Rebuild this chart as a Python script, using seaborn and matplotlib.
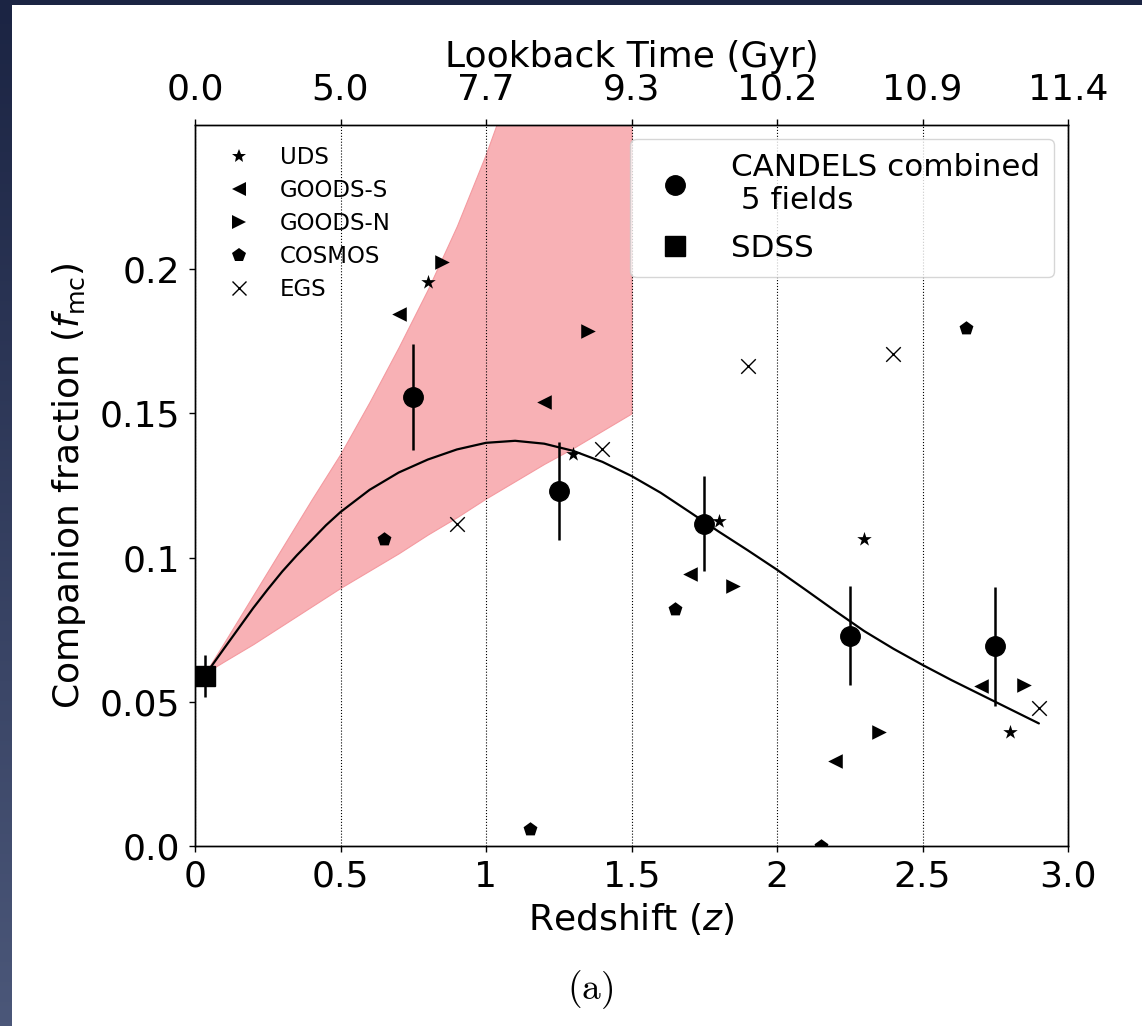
import numpy as np
import matplotlib
matplotlib.use('Agg')
import matplotlib.pyplot as plt
from matplotlib.lines import Line2D
from matplotlib.patches import Rectangle
from matplotlib.colors import LinearSegmentedColormap
import seaborn as sns

# ---------------- data ----------------
field_names = ['UDS', 'GOODS-S', 'GOODS-N', 'COSMOS', 'EGS']
field_markers = ['*', '<', '>', 'p', 'x']

uds_z = [0.80, 1.30, 1.80, 2.30, 2.80]
uds_f = [0.1957, 0.136, 0.1126, 0.1063, 0.0396]
goodss_z = [0.70, 1.20, 1.70, 2.20, 2.70]
goodss_f = [0.1846, 0.1538, 0.0944, 0.0293, 0.0556]
goodsn_z = [0.85, 1.35, 1.85, 2.35, 2.85]
goodsn_f = [0.2025, 0.1786, 0.0903, 0.0397, 0.0559]
cosmos_z = [0.65, 1.15, 1.65, 2.15, 2.65]
cosmos_f = [0.1063, 0.0059, 0.0823, 0.0, 0.1795]
egs_z = [0.90, 1.40, 1.90, 2.40, 2.90]
egs_f = [0.1115, 0.1375, 0.1664, 0.1705, 0.048]

candels_z = [0.75, 1.25, 1.75, 2.25, 2.75]
candels_f = [0.1557, 0.123, 0.1118, 0.0729, 0.0692]
candels_err = [0.0183, 0.017, 0.0165, 0.0171, 0.0206]

sdss_z = [0.034]
sdss_f = [0.059]
sdss_err = [0.0073]

fit_z = [0.04, 0.1, 0.15, 0.2, 0.25, 0.3, 0.35, 0.4, 0.45, 0.5, 0.6, 0.7, 0.8,
         0.9, 1.0, 1.1, 1.2, 1.3, 1.4, 1.5, 1.6, 1.7, 1.8, 1.9, 2.0, 2.1, 2.2,
         2.3, 2.4, 2.5, 2.6, 2.7, 2.8, 2.9]
fit_f = [0.060, 0.0685, 0.0755, 0.0825, 0.089, 0.0952, 0.1008, 0.106, 0.1112,
         0.1158, 0.1235, 0.1295, 0.134, 0.1375, 0.1398, 0.1405, 0.1395, 0.137,
         0.1332, 0.1283, 0.1225, 0.1158, 0.109, 0.1025, 0.0958, 0.0887, 0.0815,
         0.0745, 0.0684, 0.0628, 0.0575, 0.0525, 0.0475, 0.0425]

band_z = [0.035, 0.1, 0.2, 0.3, 0.4, 0.5, 0.6, 0.7, 0.8, 0.9, 1.0, 1.1, 1.2,
          1.3, 1.4, 1.5]
band_lo = [0.060, 0.064, 0.070, 0.0765, 0.083, 0.0895, 0.0955, 0.1015, 0.108,
           0.114, 0.1205, 0.1265, 0.1325, 0.138, 0.144, 0.150]
band_hi = [0.060, 0.0705, 0.087, 0.1035, 0.120, 0.136, 0.154, 0.173, 0.193,
           0.215, 0.240, 0.268, 0.300, 0.335, 0.372, 0.41]

zticks = [0, 0.5, 1, 1.5, 2, 2.5, 3.0]
zticklabels = ['0', '0.5', '1', '1.5', '2', '2.5', '3.0']
lookback_labels = ['0.0', '5.0', '7.7', '9.3', '10.2', '10.9', '11.4']
fticks = [0.0, 0.05, 0.1, 0.15, 0.2]
fticklabels = ['0.0', '0.05', '0.1', '0.15', '0.2']

field_z = [uds_z, goodss_z, goodsn_z, cosmos_z, egs_z]
field_f = [uds_f, goodss_f, goodsn_f, cosmos_f, egs_f]

# ---------------- style ----------------
sns.set_style('ticks')
plt.rcParams['font.family'] = ['DejaVu Sans']
plt.rcParams['mathtext.fontset'] = 'dejavusans'
plt.rcParams['text.color'] = 'k'
plt.rcParams['axes.labelcolor'] = 'k'
plt.rcParams['xtick.color'] = 'k'
plt.rcParams['ytick.color'] = 'k'

W, H = 1142, 1026
fig = plt.figure(figsize=(W / 100, H / 100), dpi=100)

# background: dark gradient frame + white panel
bg = fig.add_axes([0, 0, 1, 1], zorder=-5)
grad = np.linspace(0, 1, 256).reshape(-1, 1)
cmap = LinearSegmentedColormap.from_list('bg', ['#1b2443', '#4b5779'])
bg.imshow(grad, aspect='auto', cmap=cmap, extent=(0, 1, 0, 1), origin='upper')
bg.add_patch(Rectangle((12 / W, 0), 1, 1 - 5 / H, facecolor='white', edgecolor='none'))
bg.set_xlim(0, 1)
bg.set_ylim(0, 1)
bg.axis('off')

ax = fig.add_axes([195 / W, 1 - 846 / H, (1068 - 195) / W, (846 - 125) / H])
ax.set_facecolor('none')

# shaded band
ax.fill_between(band_z, band_lo, band_hi, facecolor='#f8b1b5',
                edgecolor='#f49aa0', linewidth=0.8, zorder=1)

# fit curve
sns.lineplot(x=fit_z, y=fit_f, color='k', linewidth=1.6, ax=ax, zorder=3, sort=True)

# individual fields
for name, m, zz, ff in zip(field_names, field_markers, field_z, field_f):
    if m == 'x':
        sns.scatterplot(x=zz, y=ff, marker=m, color='k', s=110, linewidth=1.0,
                        ax=ax, zorder=4, legend=False)
    else:
        sns.scatterplot(x=zz, y=ff, marker=m, color='k', s=110 if m != '*' else 120,
                        linewidth=0, ax=ax, zorder=4, legend=False)

# combined CANDELS and SDSS
ax.errorbar(candels_z, candels_f, yerr=candels_err, fmt='o', color='k', ms=14,
            elinewidth=1.8, capsize=0, zorder=5)
ax.errorbar(sdss_z, sdss_f, yerr=sdss_err, fmt='s', color='k', ms=14,
            elinewidth=1.8, capsize=0, zorder=5)

# axes formatting
ax.set_xlim(0, 3.0)
ax.set_ylim(0, 0.25)
ax.set_xticks(zticks)
ax.set_xticklabels(zticklabels)
ax.set_yticks(fticks)
ax.set_yticklabels(fticklabels)
ax.grid(False)
ax.xaxis.grid(True, linestyle=':', color='k', linewidth=0.8)
ax.set_axisbelow('line')
for sp in ax.spines.values():
    sp.set_visible(True)
    sp.set_color('k')
    sp.set_linewidth(1.0)
ax.tick_params(axis='x', direction='out', length=4, width=1, labelsize=26, pad=6, colors='k')
ax.tick_params(axis='y', direction='out', length=4, width=1, labelsize=26, pad=7, colors='k')
ax.set_xlabel('Redshift ($z$)', fontsize=26, labelpad=5)
ax.set_ylabel('Companion fraction ($f_{\\rm mc}$)', fontsize=26, labelpad=8)

ax2 = ax.twiny()
ax2.set_xlim(0, 3.0)
ax2.set_xticks(zticks)
ax2.set_xticklabels(lookback_labels)
ax2.grid(False)
ax2.tick_params(axis='x', direction='out', length=4, width=1, labelsize=26, pad=9, colors='k')
ax2.set_xlabel('Lookback Time (Gyr)', fontsize=26, labelpad=4)
for sp in ax2.spines.values():
    sp.set_visible(True)
    sp.set_color('k')
    sp.set_linewidth(1.0)

# legends
h1 = []
for name, m in zip(field_names, field_markers):
    if m == 'x':
        h1.append(Line2D([], [], marker=m, ls='', color='k', ms=10, mew=1.0, label=name))
    else:
        h1.append(Line2D([], [], marker=m, ls='', color='k', ms=10, mew=0, label=name))
leg1 = ax.legend(handles=h1, loc='upper left', frameon=False, fontsize=16.5,
                 labelspacing=0.44)

h2 = [Line2D([], [], marker='o', ls='', color='k', ms=14, label='CANDELS combined\n 5 fields'),
      Line2D([], [], marker='s', ls='', color='k', ms=14, label='SDSS')]
leg2 = ax.legend(handles=h2, loc='upper right', fontsize=22.3, frameon=True,
                 fancybox=True, framealpha=0.8, edgecolor='0.8',
                 borderaxespad=0.45, labelspacing=0.6, borderpad=0.45)
ax.add_artist(leg1)

fig.text(590 / W, 1 - 990 / H, r'$\mathrm{(a)}$', math_fontfamily='cm',
         fontsize=27, ha='center', va='center')

fig.savefig('out.png', dpi=100)
